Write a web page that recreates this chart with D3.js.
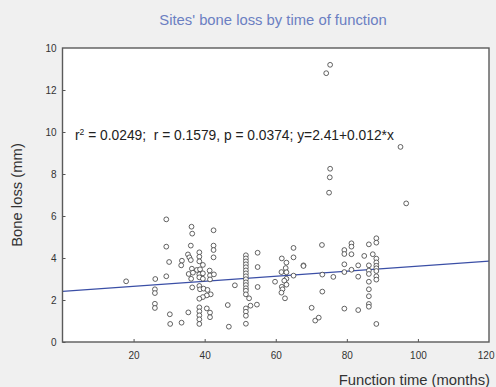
<!DOCTYPE html>
<html><head><meta charset="utf-8">
<script src="https://cdn.jsdelivr.net/npm/d3@7/dist/d3.min.js"></script>
<style>html,body{margin:0;padding:0;background:#f0f0f0;}svg{display:block;font-family:"Liberation Sans",Arial,sans-serif;}</style>
</head><body>
<script>
const title = "Sites' bone loss by time of function";
const xLabel = "Function time (months)";
const yLabel = "Bone loss (mm)";
const xTicks = [20, 40, 60, 80, 100, 120];
const yTicks = [0, 2, 4, 6, 8, 10, 12, 14];
const yTickLabels = ["0", "2", "4", "6", "8", "10", "12", "10"];
const intercept = 2.41, slope = 0.012;

const months = [
  17.9, 29.2, 36.3, 36.5, 42.5, 29.2, 36.1, 42.5, 42.5, 38.5, 35.3, 35.7, 36.1, 38.5, 38.5, 42.5,
  30.0, 33.6, 33.4, 39.5, 36.4, 37.8, 38.7, 35.5, 36.7, 38.5, 39.5, 41.4, 41.5, 42.6, 29.2, 26.1,
  36.2, 38.5, 39.5, 41.5, 36.5, 38.5, 38.7, 39.7, 40.8, 41.7, 40.6, 39.5, 38.5, 26.0, 26.0, 48.5,
  26.0, 26.0, 46.5, 40.6, 41.5, 41.5, 38.5, 38.5, 38.5, 38.5, 38.5, 35.4, 30.2, 30.3, 33.5, 46.8,
  51.6, 51.6, 51.6, 51.6, 51.6, 51.6, 51.6, 51.6, 51.6, 51.6, 51.6, 51.6, 51.6, 51.6,
  51.6, 51.6, 51.6, 51.6,
  52.5, 52.9, 54.9, 54.9, 54.9, 54.7, 59.8, 61.7, 63.0, 62.8, 61.6, 63.0, 63.0, 62.4, 63.0, 61.7,
  61.9, 61.6, 62.6, 65.0, 65.0, 65.0, 67.8, 67.8, 70.1, 71.1, 72.1, 73.0, 73.1, 73.1, 76.2,
  79.3, 79.3, 79.3, 79.3, 79.3,
  81.3, 81.3, 81.3, 81.3,
  83.2, 83.2, 83.2, 84.9,
  86.2, 86.2, 86.2, 86.2, 86.2, 86.2, 86.2, 86.2, 86.2,
  87.3,
  88.3, 88.3, 88.3, 88.3, 88.3, 88.3, 88.3, 88.3, 88.3, 88.3,
  96.7, 75.3, 74.2, 95.1, 75.3, 75.2, 75.0
];
const boneLoss = [
  2.89, 5.84, 5.49, 5.16, 5.32, 4.54, 4.59, 4.59, 4.38, 4.27, 4.17, 4.03, 3.90, 4.06, 3.84, 4.03,
  3.81, 3.87, 3.65, 3.67, 3.49, 3.43, 3.46, 3.24, 3.30, 3.22, 3.27, 3.40, 3.17, 3.22, 3.13, 3.00,
  3.01, 3.08, 3.01, 2.98, 2.60, 2.67, 2.51, 2.54, 2.48, 2.27, 2.22, 2.14, 2.06, 2.51, 2.33, 2.70,
  1.82, 1.62, 1.76, 1.60, 1.40, 1.18, 1.65, 1.46, 1.27, 1.08, 0.86, 1.41, 1.32, 0.86, 0.92, 0.73,
  4.13, 3.98, 3.84, 3.70, 3.56, 3.41, 3.27, 3.13, 2.99, 2.84, 2.71, 2.56, 2.44, 2.27,
  1.60, 1.44, 1.25, 0.87,
  2.08, 1.73, 4.25, 3.57, 2.62, 1.78, 2.87, 3.98, 3.78, 3.52, 3.33, 3.32, 3.01, 2.92, 2.73, 2.63,
  2.51, 2.35, 2.08, 4.48, 4.03, 3.16, 3.65, 3.62, 1.63, 1.02, 1.16, 4.62, 3.21, 2.40, 3.10,
  4.38, 4.19, 3.70, 3.33, 1.59,
  4.70, 4.54, 4.18, 3.44,
  3.65, 3.11, 1.52, 4.10,
  4.65, 3.65, 3.40, 3.24, 2.87, 2.51, 2.18, 1.81, 1.68,
  4.18,
  4.94, 4.73, 3.97, 3.79, 3.63, 3.51, 3.38, 3.13, 2.97, 0.86,
  6.60, 13.2, 12.8, 9.29, 8.25, 7.84, 7.11
];
const points = months.map((m, i) => ({x: m, y: boneLoss[i]}));

const W = 496, H = 387;
const L = 62.5, R = 489, T = 48, B = 342;
const svg = d3.select("body").append("svg").attr("width", W).attr("height", H);
svg.append("rect").attr("width", W).attr("height", H).attr("fill", "#f0f0f0");

const x = d3.scaleLinear().domain([0, 120]).range([L, R]);
const y = d3.scaleLinear().domain([0, 14]).range([B, T]);

svg.append("rect").attr("x", L).attr("y", T).attr("width", R - L).attr("height", B - T)
  .attr("fill", "#fff");

svg.append("defs").append("clipPath").attr("id", "clip")
  .append("rect").attr("x", L).attr("y", T).attr("width", R - L).attr("height", B - T);

// regression line
svg.append("line").attr("clip-path", "url(#clip)")
  .attr("x1", x(0)).attr("y1", y(intercept))
  .attr("x2", x(120)).attr("y2", y(intercept + slope * 120))
  .attr("stroke", "#3b4fa6").attr("stroke-width", 1.2);

// points
svg.append("g").selectAll("circle").data(points).join("circle")
  .attr("cx", d => x(d.x)).attr("cy", d => y(d.y)).attr("r", 2.4)
  .attr("fill", "#fff").attr("stroke", "#3c3c3c").attr("stroke-width", 0.8);

// axes
const xAxis = d3.axisBottom(x).tickValues(xTicks).tickSize(-3).tickPadding(10).tickFormat(d3.format("d"));
const gx = svg.append("g").attr("transform", `translate(0,${B})`).call(xAxis);
const yAxis = d3.axisLeft(y).tickValues(yTicks).tickSize(-3).tickPadding(6)
  .tickFormat((d, i) => yTickLabels[i]);
const gy = svg.append("g").attr("transform", `translate(${L},0)`).call(yAxis);
[gx, gy].forEach(g => {
  g.select(".domain").remove();
  g.selectAll(".tick line").attr("stroke", "#555").attr("stroke-width", 1);
  g.selectAll(".tick text").attr("fill", "#333").attr("font-size", 10)
    .attr("font-family", "'Liberation Sans',Arial,sans-serif");
});
gy.selectAll(".tick").filter(d => d === 14).select("line").remove();
gx.selectAll(".tick").filter(d => d === 120).select("line").remove();
gx.selectAll(".tick").filter(d => d === 120).select("text").attr("text-anchor", "end").attr("dx", 5);

// frame
svg.append("rect").attr("x", L).attr("y", T).attr("width", R - L).attr("height", B - T)
  .attr("fill", "none").attr("stroke", "#5a5a5a").attr("stroke-width", 1.4);

// title
svg.append("text").attr("x", 273).attr("y", 25).attr("text-anchor", "middle")
  .attr("font-size", 14.8).attr("fill", "#6b7fc2").text(title);

// labels
svg.append("text").attr("x", R + 1).attr("y", 385).attr("text-anchor", "end")
  .attr("font-size", 14.8).attr("fill", "#333").text(xLabel);
svg.append("text").attr("transform", `translate(22,${(T + B) / 2}) rotate(-90)`)
  .attr("text-anchor", "middle").attr("font-size", 14.8).attr("fill", "#333").text(yLabel);

// stats
const st = svg.append("text").attr("x", 75).attr("y", 140).attr("font-size", 13.8).attr("fill", "#222");
st.append("tspan").text("r");
st.append("tspan").attr("font-size", 8.5).attr("dy", -5).text("2");
st.append("tspan").attr("dy", 5).text("\u00a0= 0.0249;\u00a0\u00a0r = 0.1579, p = 0.0374; y=2.41+0.012*x");
</script>
</body></html>
